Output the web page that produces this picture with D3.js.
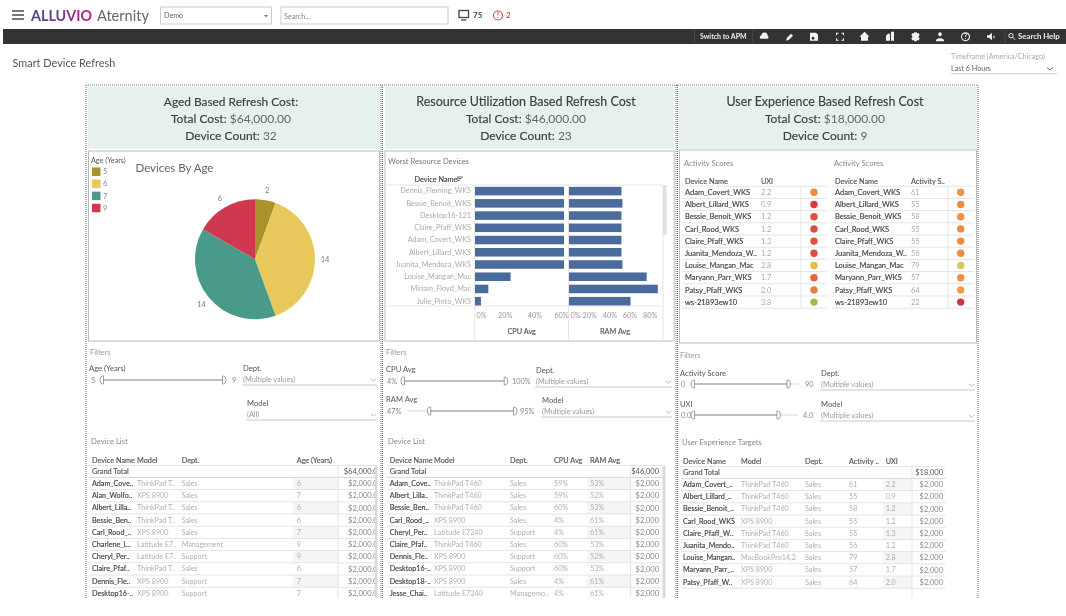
<!DOCTYPE html>
<html lang="en">
<head>
    <meta charset="UTF-8">
    <title>Smart Device Refresh</title>
    <script src="https://d3js.org/d3.v7.min.js"></script>
    <style>
        html, body { margin: 0; background: #fff; overflow: hidden; }
        svg { display: block; filter: blur(0.3px); }
        text { font-family: Lato, "Noto Sans", sans-serif; }
        .axis .domain, .axis line { display: none; }
        .med { stroke: currentColor; stroke-width: 0.15px; }
    </style>
</head>
<body>
    <svg width="1066" height="616"></svg>
    <script>
        // pie
        const ageLabels = ["5", "6", "7", "9"];
        const ageCounts = [2, 14, 14, 6];
        const ageColors = ["#a9912c", "#e8c85a", "#4a9a8a", "#d0384f"];

        // worst resource devices
        const worstDevices = ["Dennis_Fleming_WKS", "Bessie_Benoit_WKS", "Desktop16-121", "Claire_Pfaff_WKS", "Adam_Covert_WKS", "Albert_Lillard_WKS", "Juanita_Mendoza_WKS", "Louise_Mangan_Mac", "Miriam_Floyd_Mac", "Julie_Pinto_WKS"];
        const worstCpu = [60, 60, 60, 60, 60, 60, 60, 24, 9, 4];
        const worstRam = [52, 53, 52, 52, 52, 52, 53, 77, 88, 61];

        // activity scores
        const scoreDevices = ["Adam_Covert_WKS", "Albert_Lillard_WKS", "Bessie_Benoit_WKS", "Carl_Rood_WKS", "Claire_Pfaff_WKS", "Juanita_Mendoza_W..", "Louise_Mangan_Mac", "Maryann_Parr_WKS", "Patsy_Pfaff_WKS", "ws-21893ew10"];
        const scoreUxi = [2.2, 0.9, 1.2, 1.2, 1.3, 1.2, 2.8, 1.7, 2.0, 3.8];
        const scoreActivity = [61, 55, 58, 55, 55, 56, 79, 57, 64, 22];

        // device list, age
        const ageNames = ["Adam_Cove..", "Alan_Wolfo..", "Albert_Lilla..", "Bessie_Ben..", "Carl_Rood_..", "Charlene_L..", "Cheryl_Per..", "Claire_Pfaf..", "Dennis_Fle..", "Desktop16-.."];
        const ageModels = ["ThinkPad T..", "XPS 8900", "ThinkPad T..", "ThinkPad T..", "XPS 8900", "Latitude E7..", "Latitude E7..", "ThinkPad T..", "XPS 8900", "XPS 8900"];
        const ageDepts = ["Sales", "Sales", "Sales", "Sales", "Sales", "Management", "Support", "Sales", "Support", "Support"];
        const ageYears = [6, 7, 6, 6, 7, 9, 9, 6, 7, 7];
        const ageCosts = Array(10).fill("$2,000.00");

        // device list, resources
        const resNames = ["Adam_Cove..", "Albert_Lilla..", "Bessie_Ben..", "Carl_Rood_..", "Cheryl_Per..", "Claire_Pfaf..", "Dennis_Fle..", "Desktop16-..", "Desktop18-..", "Jesse_Chai.."];
        const resModels = ["ThinkPad T460", "ThinkPad T460", "ThinkPad T460", "XPS 8900", "Latitude E7240", "ThinkPad T460", "XPS 8900", "XPS 8900", "XPS 8900", "Latitude E7240"];
        const resDepts = ["Sales", "Sales", "Sales", "Sales", "Support", "Sales", "Support", "Support", "Sales", "Managemo.."];
        const resCpu = ["59%", "59%", "60%", "4%", "4%", "60%", "60%", "60%", "4%", "4%"];
        const resRam = ["53%", "52%", "53%", "61%", "61%", "53%", "52%", "53%", "61%", "61%"];
        const resCosts = Array(10).fill("$2,000");

        // user experience targets
        const uxNames = ["Adam_Covert_..", "Albert_Lillard_..", "Bessie_Benoit_..", "Carl_Rood_WKS", "Claire_Pfaff_W..", "Juanita_Mendo..", "Louise_Mangan..", "Maryann_Parr_..", "Patsy_Pfaff_W.."];
        const uxModels = ["ThinkPad T460", "ThinkPad T460", "ThinkPad T460", "XPS 8900", "ThinkPad T460", "ThinkPad T460", "MacBookPro14,2", "XPS 8900", "XPS 8900"];
        const uxDepts = Array(9).fill("Sales");
        const uxActivity = [61, 55, 58, 55, 55, 56, 79, 57, 64];
        const uxUxi = ["2.2", "0.9", "1.2", "1.2", "1.3", "1.2", "2.8", "1.7", "2.0"];
        const uxCosts = Array(9).fill("$2,000");

        const svg = d3.select("svg");
        const grad = svg.append("defs").append("linearGradient").attr("id", "logo");
        grad.append("stop").attr("offset", "0%").attr("stop-color", "#38508f");
        grad.append("stop").attr("offset", "45%").attr("stop-color", "#6d3f93");
        grad.append("stop").attr("offset", "100%").attr("stop-color", "#c4187f");

        function txt(g, x, y, s, size, color, opts) {
            opts = opts || {};
            return g.append("text")
                .attr("x", x).attr("y", y)
                .attr("dy", "0.35em")
                .attr("font-size", size)
                .attr("fill", color)
                .attr("color", color)
                .attr("class", opts.med ? "med" : null)
                .attr("font-weight", opts.weight || 400)
                .attr("text-anchor", opts.anchor || "start")
                .text(s);
        }
        function line(g, x1, y1, x2, y2, color, w, dash) {
            return g.append("line").attr("x1", x1).attr("y1", y1).attr("x2", x2).attr("y2", y2)
                .attr("stroke", color).attr("stroke-width", w || 1)
                .attr("stroke-dasharray", dash || null);
        }
        function box(g, x, y, w, h, fill, stroke) {
            return g.append("rect").attr("x", x).attr("y", y).attr("width", w).attr("height", h)
                .attr("fill", fill).attr("stroke", stroke || "none");
        }

        // top header
        const head = svg.append("g");
        [11, 15, 19].forEach(y => line(head, 12, y, 24, y, "#555", 1.6));
        txt(head, 31, 15.5, "ALLUVIO", 16, "url(#logo)", { weight: 700 }).attr("textLength", 61).attr("lengthAdjust", "spacingAndGlyphs");
        txt(head, 97, 15.5, "Aternity", 16, "#666").attr("textLength", 52).attr("lengthAdjust", "spacingAndGlyphs");
        box(head, 160.5, 7, 111, 17, "#fff", "#ccc");
        txt(head, 164, 15.5, "Demo", 7.2, "#666");
        head.append("path").attr("d", "M264 15h4l-2 2.5z").attr("fill", "#777");
        box(head, 281, 7, 167, 17, "#fff", "#ccc");
        txt(head, 284, 16, "Search...", 7.2, "#888");
        box(head, 459, 10.5, 9.5, 7, "none", "#444").attr("stroke-width", 1.3);
        line(head, 461, 20, 466.5, 20, "#444", 1.3);
        txt(head, 473, 15.5, "75", 8, "#444", { weight: 700 });
        head.append("circle").attr("cx", 498).attr("cy", 15.5).attr("r", 4.5).attr("fill", "none").attr("stroke", "#d2444c").attr("stroke-width", 1.1);
        txt(head, 498, 15.5, "!", 7, "#d2444c", { anchor: "middle", weight: 700 });
        txt(head, 506, 15.5, "2", 8, "#d2444c", { weight: 700 });

        // dark toolbar
        const bar = svg.append("g");
        box(bar, 3, 29, 1063, 15, "#333");
        txt(bar, 700, 36.7, "Switch to APM", 7, "#eee", { weight: 700 });
        [694.6, 752.4, 1005].forEach(x => line(bar, x, 30, x, 43, "#484848"));
        const iconPaths = [
            "M-4 2a2 2 0 0 1 1-3.5a3 3 0 0 1 6 .5a1.6 1.6 0 0 1 0 3z",
            "M-4 4l1-3l4-4l2 2l-4 4z",
            "M-4-4h6l2 2v6h-8zM-1 0a1.5 1.5 0 1 0 .1 0z",
            "M-4-4h2.5v1h-1.5v1.5h-1zM4-4h-2.5v1h1.5v1.5h1zM-4 4h2.5v-1h-1.5v-1.5h-1zM4 4h-2.5v-1h1.5v-1.5h1z",
            "M-5 0l5-5l5 5h-1.5v4h-7v-4z",
            "M-4-1l2-2h2v7h-4zM1-5h3v9h-3z",
            "M-1.2-4.5h2.4l.4 1.3l1.4-.5l1.2 2l-1 1v1.4l1 1l-1.2 2l-1.4-.5l-.4 1.3h-2.4l-.4-1.3l-1.4.5l-1.2-2l1-1v-1.4l-1-1l1.2-2l1.4.5z",
            "M-1.8-2.5a1.8 2 0 1 1 3.6 0a1.8 2 0 1 1-3.6 0M-4 4.5v-1.5l2.5-1.5h3l2.5 1.5v1.5z",
            "M0-4.5a4.5 4.5 0 1 0 .1 0zM0-3.5a3.5 3.5 0 1 1-.1 0z",
            "M-4-1.5h2l3-2.5v7.5l-3-2.5h-2zM2.5-1v2.5h1v-2.5z"
        ];
        const iconX = [764.5, 790, 814, 840, 864.5, 890, 915.5, 940, 965.5, 991];
        bar.selectAll(".icon").data(iconPaths).join("path")
            .attr("class", "icon")
            .attr("d", d => d)
            .attr("fill", "#f2f2f2")
            .attr("fill-rule", "evenodd")
            .attr("transform", (d, i) => `translate(${iconX[i]},36.7)`);
        txt(bar, 965.5, 36.7, "?", 6.5, "#f2f2f2", { anchor: "middle", weight: 700 });
        bar.append("circle").attr("cx", 1011).attr("cy", 35.7).attr("r", 2.2).attr("fill", "none").attr("stroke", "#eee");
        line(bar, 1012.5, 37.2, 1015, 39.7, "#eee");
        txt(bar, 1018, 36.7, "Search Help", 7.8, "#eee", { weight: 700 });

        // page title and timeframe
        txt(svg, 12.5, 63.5, "Smart Device Refresh", 10.9, "#555");
        txt(svg, 951, 56.8, "Timeframe (America/Chicago)", 7.2, "#aaa");
        txt(svg, 951, 68.8, "Last 6 Hours", 7.2, "#666");
        line(svg, 951, 73.8, 1057, 73.8, "#ccc");
        svg.append("path").attr("d", "M1047 67.5l3 2.5l3-2.5").attr("fill", "none").attr("stroke", "#666");

        // the three summary headers
        const banners = [
            { x: 88, w: 292, cx: 231, size: 11.9, l1: "Aged Based Refresh Cost:", l2a: "Total Cost:", l2b: "$64,000.00", l3a: "Device Count:", l3b: "32" },
            { x: 385, w: 289, cx: 526, size: 12.5, l1: "Resource Utilization Based Refresh Cost", l2a: "Total  Cost:", l2b: "$46,000.00", l3a: "Device Count:", l3b: "23" },
            { x: 679, w: 298, cx: 825, size: 12.4, l1: "User Experience Based Refresh Cost", l2a: "Total Cost:", l2b: "$18,000.00", l3a: "Device Count:", l3b: "9" }
        ];
        banners.forEach(b => {
            box(svg, b.x, 87, b.w, 62, "#e6f0ee");
            txt(svg, b.cx, 102, b.l1, b.size, "#3c4043", { anchor: "middle", med: true });
            [[119, b.l2a, b.l2b], [136, b.l3a, b.l3b]].forEach(r => {
                const t = svg.append("text").attr("x", b.cx).attr("y", r[0]).attr("dy", "0.35em")
                    .attr("font-size", 12).attr("text-anchor", "middle").attr("fill", "#3c4043").attr("color", "#3c4043");
                t.append("tspan").attr("class", "med").text(r[1] + " ");
                t.append("tspan").attr("fill", "#666").text(r[2]);
            });
        });

        // frames around the chart zone
        box(svg, 88.5, 151, 291, 190, "none", "#bbb");
        box(svg, 385, 151, 289, 190, "none", "#bbb");
        box(svg, 679.5, 150, 297, 193, "none", "#bbb");

        // pie chart
        txt(svg, 91, 160, "Age (Years)", 7.2, "#555");
        txt(svg, 135.5, 167.5, "Devices By Age", 11.5, "#666");
        const legendY = d3.scaleLinear().domain([0, 1]).range([171.7, 183.8]);
        svg.selectAll(".swatch").data(ageLabels).join("rect")
            .attr("class", "swatch")
            .attr("x", 92).attr("width", 8.5).attr("height", 8.5)
            .attr("y", (d, i) => legendY(i) - 4.25)
            .attr("fill", (d, i) => ageColors[i]);
        svg.selectAll(".swatch-label").data(ageLabels).join("text")
            .attr("class", "swatch-label")
            .attr("x", 103).attr("y", (d, i) => legendY(i)).attr("dy", "0.35em")
            .attr("font-size", 7.5).attr("fill", "#888").text(d => d);

        const pieG = svg.append("g").attr("transform", "translate(255,259.3)");
        const arcs = d3.pie().sort(null)(ageCounts);
        pieG.selectAll("path").data(arcs).join("path")
            .attr("d", d3.arc().innerRadius(0).outerRadius(60))
            .attr("fill", (d, i) => ageColors[i]);
        const labelArc = d3.arc().innerRadius(70).outerRadius(70);
        pieG.selectAll("text").data(arcs).join("text")
            .attr("transform", d => `translate(${labelArc.centroid(d)})`)
            .attr("text-anchor", "middle").attr("dy", "0.35em")
            .attr("font-size", 7.5).attr("fill", "#777")
            .text(d => d.data);

        // worst resource devices
        txt(svg, 388, 161.5, "Worst Resource Devices", 7.6, "#777");
        txt(svg, 414.5, 179.5, "Device Name", 7.3, "#444", { med: true });
        [[457, 463], [457, 461.5], [457, 460]].forEach((p, i) => line(svg, p[0], 177 + i * 1.7, p[1], 177 + i * 1.7, "#555", 0.9));
        const rowBand = d3.scaleBand().domain(worstDevices).range([185, 307.3]).paddingInner(0.3).paddingOuter(0.15);
        const cpuX = d3.scaleLinear().domain([0, 60]).range([475, 564]);
        const ramX = d3.scaleLinear().domain([0, 80]).range([569, 649.7]);
        line(svg, 385, 185, 663, 185, "#e4e4e4");
        line(svg, 385, 306, 663, 306, "#e4e4e4");
        line(svg, 474.7, 185, 474.7, 340, "#e4e4e4");
        line(svg, 568.5, 185, 568.5, 340, "#e4e4e4");
        line(svg, 663, 185, 663, 340, "#e4e4e4");
        box(svg, 663, 185, 3.5, 50, "#dfe1e4");
        const bars = svg.append("g").attr("fill", "#4a6b9c");
        bars.selectAll(".cpu").data(worstDevices).join("rect").attr("class", "cpu")
            .attr("x", cpuX(0)).attr("y", d => rowBand(d)).attr("height", rowBand.bandwidth())
            .attr("width", (d, i) => cpuX(worstCpu[i]) - cpuX(0));
        bars.selectAll(".ram").data(worstDevices).join("rect").attr("class", "ram")
            .attr("x", ramX(0)).attr("y", d => rowBand(d)).attr("height", rowBand.bandwidth())
            .attr("width", (d, i) => ramX(worstRam[i]) - ramX(0));
        const yAxis = svg.append("g").attr("class", "axis").attr("transform", "translate(473,0)")
            .call(d3.axisLeft(rowBand).tickSize(0).tickPadding(2));
        yAxis.selectAll("text").attr("font-size", 7.3).attr("fill", "#aaa").style("font-family", "Lato");
        const xCpu = svg.append("g").attr("class", "axis").attr("transform", "translate(0,311)")
            .call(d3.axisBottom(cpuX).tickValues([0, 20, 40, 60]).tickFormat(d => d + "%").tickSize(0).tickPadding(2));
        const xRam = svg.append("g").attr("class", "axis").attr("transform", "translate(0,311)")
            .call(d3.axisBottom(ramX).tickValues([0, 20, 40, 60, 80]).tickFormat(d => d + "%").tickSize(0).tickPadding(2));
        [xCpu, xRam].forEach(a => {
            a.selectAll("text").attr("font-size", 7.3).attr("fill", "#999").style("font-family", "Lato");
            a.selectAll(".tick:first-of-type text").attr("text-anchor", "start").attr("dx", 1);
        });
        xCpu.selectAll(".tick:last-of-type text").attr("dx", -3);
        txt(svg, 521.7, 331, "CPU Avg", 7.3, "#555", { anchor: "middle", med: true });
        txt(svg, 615, 331, "RAM Avg", 7.3, "#555", { anchor: "middle", med: true });

        // activity score tables
        const scoreColorUxi = d3.scaleLinear().domain([0.9, 1.2, 1.7, 2.2, 2.8, 3.8])
            .range(["#d63a42", "#d9503f", "#e2643f", "#ee8c3f", "#ebb84e", "#a5b84f"]);
        const scoreColorAct = d3.scaleLinear().domain([22, 55, 64, 79])
            .range(["#c93a44", "#ee8a3f", "#f09a4a", "#d9c65a"]);
        const scoreY = d3.scaleLinear().domain([0, 1]).range([192.3, 204.5]);
        function scoreTable(x, header, values, fmt, color, valueX, dotX, sepX, right) {
            txt(svg, x - 1, 163, "Activity Scores", 7.6, "#888");
            txt(svg, x, 181, "Device Name", 7.3, "#555", { med: true });
            txt(svg, valueX, 181, header, 7.3, "#555", { med: true });
            const g = svg.append("g");
            const rows = g.selectAll("g").data(scoreDevices).join("g")
                .attr("transform", (d, i) => `translate(0,${scoreY(i)})`);
            rows.append("line").attr("x1", x - 3).attr("x2", right).attr("y1", 6.1).attr("y2", 6.1).attr("stroke", "#e2e4e6");
            rows.append("text").attr("x", x).attr("dy", "0.35em").attr("font-size", 7.5).attr("fill", "#444").attr("color", "#444").attr("class", "med").text(d => d);
            rows.append("text").attr("x", valueX).attr("dy", "0.35em").attr("font-size", 7.5).attr("fill", "#aaa").text((d, i) => fmt(values[i]));
            rows.append("circle").attr("cx", dotX).attr("r", 3.7).attr("fill", (d, i) => color(values[i]));
            line(g, x - 3, scoreY(0) - 6.1, right, scoreY(0) - 6.1, "#e2e4e6");
            line(g, sepX, scoreY(0) - 6.1, sepX, scoreY(9) + 6.1, "#e2e4e6");
        }
        scoreTable(685, "UXI", scoreUxi, d => d.toFixed(1), scoreColorUxi, 761, 814, 801, 827);
        scoreTable(835, "Activity S..", scoreActivity, d => d, scoreColorAct, 911, 960.7, 948, 974);

        // filter widgets
        function slider(y, lo, hi, loLabel, hiLabel, labelX, hiLabelX, start, end, a, b, trackEnd) {
            const sx = d3.scaleLinear().domain([lo, hi]).range([start, end]);
            const g = svg.append("g");
            txt(g, labelX, y, loLabel, 7.3, "#888");
            txt(g, hiLabelX, y, hiLabel, 7.3, "#888");
            line(g, sx(lo), y, trackEnd, y, "#e3e3e3", 1.5);
            line(g, sx(a), y, sx(b), y, "#bfbfbf", 2);
            [a, b].forEach((v, i) => {
                const px = sx(v);
                g.append("path")
                    .attr("d", i === 0
                        ? `M${px + 2.5} ${y - 4}h-1a2.5 4 0 0 0 0 8h1z`
                        : `M${px - 2.5} ${y - 4}h1a2.5 4 0 0 1 0 8h-1z`)
                    .attr("fill", "#fff").attr("stroke", "#8a8a8a").attr("stroke-width", 0.8);
            });
        }
        function dropdown(x, y, right, label, value) {
            txt(svg, x + 1, y, label, 7.6, "#555");
            txt(svg, x + 1, y + 11.5, value, 7.3, "#999");
            line(svg, x, y + 17, right, y + 17, "#c8c8c8", 1);
            svg.append("path").attr("d", `M${right - 6} ${y + 11}l2.5 2l2.5-2`).attr("fill", "none").attr("stroke", "#aaa").attr("stroke-width", 0.8);
        }
        txt(svg, 90, 352, "Filters", 7.6, "#999");
        txt(svg, 89, 368, "Age (Years)", 7.6, "#555");
        slider(380, 5, 9, "5", "9", 91, 232, 101, 225, 5, 9, 225);
        dropdown(242, 368, 377, "Dept.", "(Multiple values)");
        dropdown(246, 403, 377, "Model", "(All)");

        txt(svg, 386, 352.7, "Filters", 7.6, "#999");
        txt(svg, 386, 369.7, "CPU Avg", 7.6, "#555");
        slider(381, 4, 100, "4%", "100%", 387, 512, 402, 506.7, 4, 100, 506.7);
        txt(svg, 386, 399.7, "RAM Avg", 7.6, "#555");
        slider(411, 47, 95, "47%", "95%", 387, 520, 408, 516, 56, 95, 516);
        dropdown(535, 370, 672, "Dept.", "(Multiple values)");
        dropdown(541, 400, 672, "Model", "(Multiple values)");

        txt(svg, 680, 355, "Filters", 7.6, "#999");
        txt(svg, 680, 373, "Activity Score", 7.6, "#555");
        slider(384, 0, 90, "0", "90", 681, 805, 692, 799, 0, 82, 799);
        txt(svg, 680, 404, "UXI", 7.6, "#555");
        slider(415, 0, 4, "0.0", "4.0", 681, 803, 692, 798, 0, 3.3, 798);
        dropdown(820, 373, 975, "Dept.", "(Multiple values)");
        dropdown(820, 404, 975, "Model", "(Multiple values)");

        // device list tables
        function deviceTable(o) {
            const rowY = d3.scaleLinear().domain([0, 1]).range([o.top + 23.5, o.top + 35.7]);
            txt(svg, o.titleX, o.top - 19, o.title, 7.6, "#888");
            const clipId = "clip" + o.titleX;
            svg.append("clipPath").attr("id", clipId).append("rect")
                .attr("x", o.left).attr("y", o.top - 6).attr("width", o.clipRight - o.left).attr("height", 598 - o.top + 6);
            const g = svg.append("g").attr("clip-path", `url(#${clipId})`);
            const n = o.columns[0].length;
            const colIdx = d3.range(o.columns.length);
            const rowIdx = d3.range(n);
            colIdx.forEach(c => txt(g, o.colX[c], o.top, o.headers[c], 7.3, "#555", { med: true }));
            // alternating band behind the last measure
            g.selectAll(".band").data(rowIdx.filter(i => i % 2 === 0)).join("rect")
                .attr("class", "band")
                .attr("x", o.bandX[0]).attr("width", o.bandX[1] - o.bandX[0])
                .attr("y", i => rowY(i) - 6.1).attr("height", rowY(1) - rowY(0))
                .attr("fill", "#f4f5f6");
            line(g, o.left, o.top + 5.5, o.right, o.top + 5.5, "#e2e4e6");
            txt(g, o.colX[0], o.top + 11.7, "Grand Total", 7.3, "#555", { med: true });
            txt(g, o.valueX, o.top + 11.7, o.total, 7.5, "#555", { anchor: "end" });
            line(g, o.left, rowY(0) - 6.1, o.right, rowY(0) - 6.1, "#d5d7da");
            const rows = g.selectAll(".row").data(rowIdx).join("g")
                .attr("class", "row")
                .attr("transform", i => `translate(0,${rowY(i)})`);
            rows.append("line").attr("x1", o.left).attr("x2", o.right).attr("y1", 6.1).attr("y2", 6.1).attr("stroke", "#e2e4e6");
            colIdx.forEach(c => {
                rows.append("text").attr("x", o.colX[c]).attr("dy", "0.35em")
                    .attr("font-size", 7.2).attr("fill", c === 0 ? "#444" : "#b0b0b0")
                    .attr("color", "#444").attr("class", c === 0 ? "med" : null)
                    .text(i => o.columns[c][i]);
            });
            rows.append("text").attr("x", o.valueX).attr("dy", "0.35em").attr("text-anchor", "end")
                .attr("font-size", 7.5).attr("fill", "#888").text(i => o.costs[i]);
            line(g, o.bandX[1], o.top + 5.5, o.bandX[1], 598, "#e2e4e6");
            if (o.scrollX) box(g, o.scrollX, o.top + 5.5, 3, 140, "#d5dae3");
        }
        deviceTable({
            title: "Device List", titleX: 91, top: 460, left: 89, right: 377, clipRight: 377.5,
            headers: ["Device Name", "Model", "Dept.", "Age (Years)"],
            colX: [92, 137, 181.7, 296.7], bandX: [293, 338], valueX: 382, total: "$64,000.00",
            columns: [ageNames, ageModels, ageDepts, ageYears], costs: ageCosts, scrollX: 375
        });
        deviceTable({
            title: "Device List", titleX: 388, top: 460, left: 387, right: 662, clipRight: 666,
            headers: ["Device Name", "Model", "Dept.", "CPU Avg", "RAM Avg"],
            colX: [389.7, 434, 510, 554, 590], bandX: [586.7, 630.7], valueX: 659, total: "$46,000",
            columns: [resNames, resModels, resDepts, resCpu, resRam], costs: resCosts, scrollX: 662.5
        });
        deviceTable({
            title: "User Experience Targets", titleX: 682, top: 461, left: 681, right: 946, clipRight: 947,
            headers: ["Device Name", "Model", "Dept.", "Activity ..", "UXI"],
            colX: [683, 741, 805, 849, 885.7], bandX: [883, 912], valueX: 943, total: "$18,000",
            columns: [uxNames, uxModels, uxDepts, uxActivity, uxUxi], costs: uxCosts
        });

        // dotted dashboard layout borders
        [86, 381, 382.5, 676, 677.5, 978].forEach(x => line(svg, x, 85, x, 598, "#777", 1, "1 1"));
        line(svg, 86, 85, 978, 85, "#777", 1, "1 1");
    </script>
</body>
</html>
